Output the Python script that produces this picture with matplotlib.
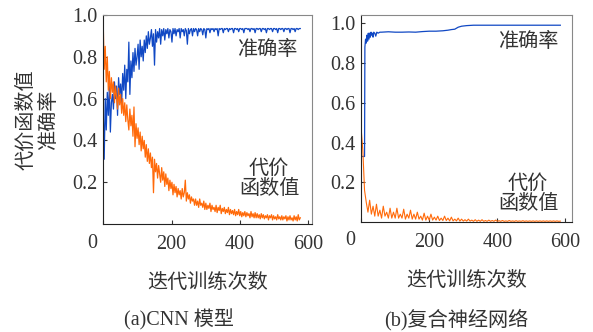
import numpy as np
import matplotlib
matplotlib.use('Agg')
import matplotlib.pyplot as plt

plt.rcParams['font.family'] = ['Liberation Serif', 'Noto Sans CJK SC']
plt.rcParams['font.size'] = 14.5
plt.rcParams['text.color'] = '#333333'
plt.rcParams['axes.labelcolor'] = '#333333'
plt.rcParams['xtick.color'] = '#333333'
plt.rcParams['ytick.color'] = '#333333'

# (a) CNN, sampled every 3 iterations
cnn_iter = np.arange(0, 579, 3)
cnn_acc = [
    0.55, 0.31, 0.60, 0.45, 0.63, 0.52, 0.66, 0.44, 0.58, 0.62,
    0.55, 0.68, 0.60, 0.66, 0.52, 0.70, 0.62, 0.67, 0.58, 0.72,
    0.64, 0.76, 0.60, 0.74, 0.68, 0.87, 0.62, 0.78, 0.70, 0.82,
    0.73, 0.84, 0.76, 0.80, 0.86, 0.74, 0.88, 0.80, 0.85, 0.78,
    0.88, 0.82, 0.90, 0.84, 0.92, 0.86, 0.89, 0.93, 0.85, 0.91,
    0.76, 0.93, 0.87, 0.92, 0.89, 0.935, 0.86, 0.93, 0.90, 0.935,
    0.88, 0.93, 0.91, 0.935, 0.89, 0.93, 0.92, 0.87, 0.935, 0.91,
    0.935, 0.90, 0.93, 0.92, 0.935, 0.89, 0.935, 0.92, 0.93, 0.90,
    0.935, 0.925, 0.86, 0.935, 0.91, 0.93, 0.935, 0.90, 0.935, 0.92,
    0.935, 0.93, 0.90, 0.935, 0.92, 0.935, 0.93, 0.905, 0.935, 0.93,
    0.89, 0.935, 0.93, 0.935, 0.915, 0.935, 0.93, 0.935, 0.92, 0.935,
    0.93, 0.935, 0.90, 0.935, 0.93, 0.935, 0.935, 0.915, 0.935, 0.93,
    0.935, 0.935, 0.92, 0.935, 0.93, 0.935, 0.935, 0.915, 0.935, 0.935,
    0.93, 0.935, 0.92, 0.935, 0.935, 0.93, 0.935, 0.915, 0.935, 0.935,
    0.935, 0.93, 0.935, 0.92, 0.935, 0.935, 0.93, 0.935, 0.915, 0.935,
    0.935, 0.93, 0.935, 0.935, 0.92, 0.935, 0.935, 0.93, 0.935, 0.915,
    0.935, 0.935, 0.93, 0.935, 0.935, 0.92, 0.935, 0.935, 0.93, 0.935,
    0.915, 0.935, 0.935, 0.93, 0.935, 0.935, 0.92, 0.935, 0.935, 0.93,
    0.935, 0.935, 0.915, 0.935, 0.935, 0.93, 0.935, 0.92, 0.935, 0.935,
    0.93, 0.935, 0.935,
]
cnn_loss = [
    0.97, 0.74, 0.85, 0.68, 0.80, 0.64, 0.73, 0.60, 0.70, 0.63,
    0.68, 0.58, 0.66, 0.61, 0.55, 0.65, 0.57, 0.62, 0.53, 0.60,
    0.52, 0.58, 0.49, 0.57, 0.50, 0.45, 0.55, 0.47, 0.52, 0.42,
    0.56, 0.37, 0.48, 0.41, 0.46, 0.38, 0.44, 0.35, 0.42, 0.36,
    0.40, 0.32, 0.38, 0.30, 0.36, 0.29, 0.34, 0.27, 0.32, 0.15,
    0.31, 0.25, 0.29, 0.22, 0.28, 0.24, 0.20, 0.27, 0.21, 0.25,
    0.18, 0.24, 0.19, 0.22, 0.16, 0.21, 0.17, 0.20, 0.14, 0.19,
    0.15, 0.18, 0.13, 0.17, 0.14, 0.16, 0.12, 0.17, 0.13, 0.15,
    0.21, 0.11, 0.15, 0.12, 0.14, 0.10, 0.13, 0.11, 0.12, 0.09,
    0.12, 0.09, 0.11, 0.08, 0.12, 0.09, 0.10, 0.08, 0.11, 0.07,
    0.10, 0.07, 0.09, 0.075, 0.10, 0.06, 0.09, 0.07, 0.08, 0.06,
    0.09, 0.055, 0.08, 0.065, 0.09, 0.05, 0.075, 0.06, 0.08, 0.05,
    0.07, 0.055, 0.08, 0.045, 0.07, 0.05, 0.065, 0.045, 0.07, 0.04,
    0.06, 0.045, 0.07, 0.04, 0.06, 0.035, 0.055, 0.04, 0.06, 0.035,
    0.055, 0.04, 0.05, 0.03, 0.06, 0.035, 0.05, 0.03, 0.055, 0.03,
    0.05, 0.03, 0.045, 0.025, 0.05, 0.03, 0.045, 0.025, 0.04, 0.03,
    0.045, 0.02, 0.04, 0.03, 0.045, 0.02, 0.04, 0.025, 0.035, 0.02,
    0.045, 0.025, 0.035, 0.02, 0.04, 0.02, 0.035, 0.025, 0.04, 0.015,
    0.035, 0.02, 0.04, 0.02, 0.03, 0.015, 0.04, 0.02, 0.035, 0.015,
    0.045, 0.02, 0.03,
]

# (b) hybrid network
hyb_acc_iter = [0, 10, 11, 13, 15, 17, 19, 21, 23, 25, 27, 29, 31, 33, 35, 37,
                40, 43, 46, 50, 55, 60, 80, 100, 120, 140, 160, 180, 200, 220,
                240, 255, 265, 275, 285, 295, 310, 330, 360, 400, 450, 500, 550, 585]
hyb_acc = [0.33, 0.33, 0.88, 0.92, 0.90, 0.94, 0.91, 0.95, 0.92, 0.95, 0.93, 0.955,
           0.94, 0.95, 0.93, 0.955, 0.95, 0.935, 0.955, 0.95, 0.955, 0.955, 0.957,
           0.955, 0.955, 0.956, 0.955, 0.958, 0.96, 0.96, 0.962, 0.965, 0.968, 0.97,
           0.98, 0.985, 0.988, 0.99, 0.99, 0.99, 0.99, 0.99, 0.99, 0.99]
hyb_loss_iter = np.arange(0, 590, 5)
hyb_loss = [
    0.47, 0.36, 0.16, 0.10, 0.05, 0.11, 0.04, 0.08, 0.03, 0.09,
    0.03, 0.06, 0.02, 0.08, 0.03, 0.05, 0.02, 0.07, 0.02, 0.05,
    0.02, 0.07, 0.02, 0.04, 0.02, 0.065, 0.015, 0.04, 0.02, 0.06,
    0.015, 0.04, 0.015, 0.05, 0.015, 0.03, 0.01, 0.045, 0.01, 0.03,
    0.01, 0.04, 0.01, 0.025, 0.01, 0.03, 0.008, 0.02, 0.008, 0.03,
    0.008, 0.02, 0.006, 0.025, 0.006, 0.015, 0.006, 0.02, 0.005, 0.015,
    0.005, 0.012, 0.005, 0.015, 0.005, 0.01, 0.004, 0.012, 0.004, 0.01,
    0.004, 0.012, 0.004, 0.008, 0.004, 0.01, 0.004, 0.008, 0.004, 0.01,
    0.004, 0.007, 0.004, 0.008, 0.004, 0.006, 0.004, 0.008, 0.004, 0.006,
    0.004, 0.007, 0.004, 0.006, 0.004, 0.007, 0.004, 0.006, 0.004, 0.006,
    0.004, 0.006, 0.004, 0.006, 0.004, 0.006, 0.004, 0.006, 0.004, 0.006,
    0.004, 0.006, 0.004, 0.006, 0.004, 0.006, 0.004, 0.005,
]

blue = '#1048c4'
orange = '#ff6a0a'

fig = plt.figure(figsize=(5.93, 3.32), dpi=100)
ax1 = fig.add_axes([0.174, 0.325, 0.352, 0.63])
ax2 = fig.add_axes([0.609, 0.331, 0.356, 0.623])

ax1.plot(cnn_iter, cnn_acc, color=blue, lw=0.9)
ax1.plot(cnn_iter, cnn_loss, color=orange, lw=0.9)
ax2.plot(hyb_acc_iter, hyb_acc, color=blue, lw=0.9)
ax2.plot(hyb_loss_iter, hyb_loss, color=orange, lw=0.8)

ax1.set_xlim(0, 610)
ax1.set_ylim(0, 1.0)
ax2.set_xlim(0, 620)
ax2.set_ylim(0, 1.04)

for ax in (ax1, ax2):
    ax.set_xticks([0, 200, 400, 600])
    ax.set_xticklabels(['', '200', '400', '600'])
    ax.set_yticks([0.2, 0.4, 0.6, 0.8, 1.0])
    ax.tick_params(direction='in', length=3, width=0.8, pad=4)
    ax.tick_params(axis='x', pad=8)
    ax.set_xlabel('迭代训练次数', labelpad=14)
    for s in ax.spines.values():
        s.set_color('#888888')
        s.set_linewidth(0.8)
    ax.spines['left'].set_color('#222222')
    ax.spines['bottom'].set_color('#222222')
    ax.text(-0.05, -0.045, '0', transform=ax.transAxes, ha='center', va='top')

# two-line y label of panel (a)
fig.text(0.045, 0.639, '代价函数值', rotation=90, ha='center', va='center')
fig.text(0.084, 0.639, '准确率', rotation=90, ha='center', va='center')

ax1.text(568, 0.83, '准确率', ha='right', va='center')
ax1.text(485, 0.215, '代价\n函数值', ha='center', va='center',
         multialignment='center', linespacing=1.1)
ax2.text(579, 0.905, '准确率', ha='right', va='center')
ax2.text(490, 0.14, '代价\n函数值', ha='center', va='center',
         multialignment='center', linespacing=1.1)

fig.text(0.302, 0.036, '(a)CNN 模型', ha='center', va='center')
fig.text(0.769, 0.036, '(b)复合神经网络', ha='center', va='center')

plt.savefig('out.png', dpi=100)
